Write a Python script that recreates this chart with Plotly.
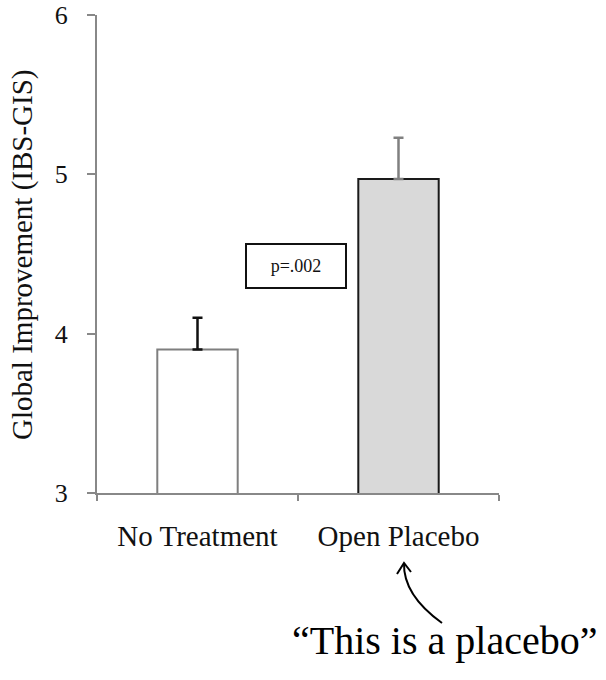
import plotly.graph_objects as go

# values
groups = ["No Treatment", "Open Placebo"]
means = [3.90, 4.97]
sem_up = [0.20, 0.26]
bar_fills = ["white", "#d9d9d9"]
bar_edges = ["#7f7f7f", "#1a1a1a"]
err_colors = ["#111111", "#808080"]
y_ticks = [3, 4, 5, 6]

W, H = 606, 680
L, R, T, B = 97, 107, 15, 187
PW, PH = W - L - R, H - T - B


def px(x, y):
    """pixel position on the page -> paper coordinates"""
    return (x - L) / PW, (H - B - y) / PH


SERIF = "Liberation Serif, Times New Roman, serif"

fig = go.Figure()

for i, g in enumerate(groups):
    fig.add_trace(
        go.Bar(
            x=[g],
            y=[means[i]],
            base=0,
            marker=dict(color=bar_fills[i], line=dict(color=bar_edges[i], width=2)),
            error_y=dict(
                type="data",
                symmetric=False,
                array=[sem_up[i]],
                arrayminus=[0],
                color=err_colors[i],
                thickness=2.5,
                width=5,
            ),
            showlegend=False,
            hoverinfo="skip",
        )
    )

# curved arrow from the caption up to the "Open Placebo" label
x0, y0 = px(442, 623)
cx, cy = px(403, 595)
x1, y1 = px(404, 563)
hl_x, hl_y = px(397, 574)
hr_x, hr_y = px(411, 572)

shapes = [
    dict(type="path", xref="paper", yref="paper",
         path=f"M {x0} {y0} Q {cx} {cy} {x1} {y1}",
         line=dict(color="black", width=2)),
    dict(type="path", xref="paper", yref="paper",
         path=f"M {hl_x} {hl_y} L {x1} {y1} L {hr_x} {hr_y}",
         line=dict(color="black", width=2)),
]

tx, ty = px(22, 255)
bx, by = px(296, 266)
cap_x, cap_y = px(444, 640)

annotations = [
    dict(text="Global Improvement (IBS-GIS)", xref="paper", yref="paper",
         x=tx, y=ty, textangle=-90, showarrow=False,
         xanchor="center", yanchor="middle",
         font=dict(family=SERIF, size=29, color="#111")),
    dict(text="p=.002", xref="paper", yref="paper", x=bx, y=by,
         showarrow=False, xanchor="center", yanchor="middle",
         width=96, height=40, bordercolor="#111", borderwidth=2,
         bgcolor="white", font=dict(family=SERIF, size=18, color="#111")),
    dict(text="\u201cThis is a placebo\u201d", xref="paper", yref="paper",
         x=cap_x, y=cap_y, showarrow=False, xanchor="center", yanchor="middle",
         font=dict(family=SERIF, size=40, color="black")),
]

fig.update_layout(
    width=W,
    height=H,
    margin=dict(l=L, r=R, t=T, b=B, pad=0, autoexpand=False),
    paper_bgcolor="white",
    plot_bgcolor="white",
    bargap=0.6,
    font=dict(family=SERIF, color="#111"),
    shapes=shapes,
    annotations=annotations,
    xaxis=dict(
        type="category",
        automargin=False,
        showline=True,
        linecolor="#888",
        linewidth=2,
        ticks="outside",
        tickson="boundaries",
        ticklen=6,
        tickcolor="#888",
        tickwidth=2,
        showgrid=False,
        tickfont=dict(family=SERIF, size=29, color="#111"),
        ticklabelstandoff=16,
    ),
    yaxis=dict(
        range=[3, 6],
        automargin=False,
        tickvals=y_ticks,
        showline=True,
        linecolor="#888",
        linewidth=2,
        ticks="outside",
        ticklen=8,
        tickcolor="#888",
        tickwidth=2,
        showgrid=False,
        zeroline=False,
        tickfont=dict(family=SERIF, size=26, color="#111"),
        ticklabelstandoff=14,
    ),
)

fig.write_html(
    "out.html",
    config={"displayModeBar": False},
    post_script="document.body.style.margin='0';document.body.style.overflow='hidden';",
)
